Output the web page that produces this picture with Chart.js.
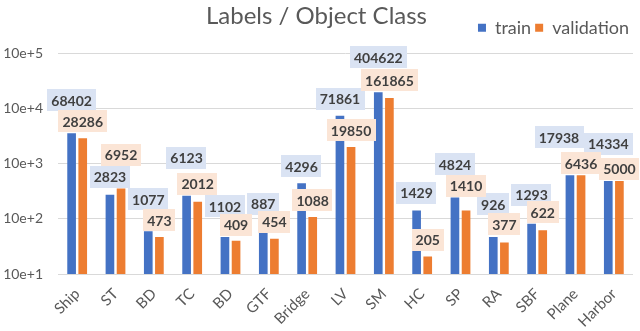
<!DOCTYPE html>
<html>
<head>
<meta charset="utf-8">
<script src="https://cdn.jsdelivr.net/npm/chart.js@4"></script>
<style>
  html, body { margin: 0; padding: 0; background: #fff; }
  #wrap { width: 640px; height: 331px; }
</style>
</head>
<body>
<div id="wrap"><canvas id="myChart"></canvas></div>
<script>
// categories
const classes = ['Ship', 'ST', 'BD', 'TC', 'BD', 'GTF', 'Bridge', 'LV', 'SM', 'HC', 'SP', 'RA', 'SBF', 'Plane', 'Harbor'];

// bar heights
const trainBars = [36000, 2750, 600, 2640, 470, 560, 4450, 74600, 201000, 1420, 2460, 470, 820, 6200, 4900];
const valBars = [29200, 3560, 470, 2060, 400, 435, 1080, 20200, 157000, 207, 1420, 374, 622, 6200, 4900];

// numbers printed in the label boxes
const trainLabels = [68402, 2823, 1077, 6123, 1102, 887, 4296, 71861, 404622, 1429, 4824, 926, 1293, 17938, 14334];
const valLabels = [28286, 6952, 473, 2012, 409, 454, 1088, 19850, 161865, 205, 1410, 377, 622, 6436, 5000];

// y axis ticks (10e+1 .. 10e+5)
const yTicks = [100, 1000, 10000, 100000, 1000000];

// label placement (px above bar top, px sideways), labels were moved by hand in the original
const trainLift = [33, 18, 32, 38, 31, 29, 17, 17, 35, 18, 33, 33, 29, 38, 37];
const valLift = [17, 34, 17, 18, 16, 17, 17, 17, 18, 17, 25, 18, 18, 12, 12];
const trainShift = [0, 0, 0, 0, 0, 0, 0, 0, 0, 0, 0, 0, 0, -11, 0];
const valShift = [0, 0, 0, 0, 0, 0, 0, 0, 0, 0, 0, 0, 0, 0, 0];

const FONT = 'Lato, "Liberation Sans", sans-serif';

const boxLabels = {
    id: 'boxLabels',
    afterDatasetsDraw(chart) {
        const ctx = chart.ctx;
        const sets = [
            { idx: 0, labels: trainLabels, lift: trainLift, shift: trainShift, fill: '#dae3f3' },
            { idx: 1, labels: valLabels, lift: valLift, shift: valShift, fill: '#fbe5d6' }
        ];
        ctx.save();
        ctx.font = 'bold 14px ' + FONT;
        ctx.textAlign = 'center';
        ctx.textBaseline = 'middle';
        sets.forEach(s => {
            const meta = chart.getDatasetMeta(s.idx);
            meta.data.forEach((bar, i) => {
                const text = String(s.labels[i]);
                const x = bar.x + s.shift[i];
                const y = bar.y - s.lift[i];
                const w = ctx.measureText(text).width + 8;
                const h = 22;
                ctx.fillStyle = s.fill;
                ctx.fillRect(Math.round(x - w / 2), Math.round(y - h / 2), Math.round(w), h);
                ctx.fillStyle = '#404040';
                ctx.fillText(text, x, y + 1);
            });
        });
        ctx.restore();
    }
};

const ctx = document.getElementById('myChart').getContext('2d');
const myChart = new Chart(ctx, {
    type: 'bar',
    data: {
        labels: classes,
        datasets: [{
            label: 'train',
            data: trainBars,
            backgroundColor: '#4472c4',
            categoryPercentage: 0.58,
            barPercentage: 0.78
        },
        {
            label: 'validation',
            data: valBars,
            backgroundColor: '#ed7d31',
            categoryPercentage: 0.58,
            barPercentage: 0.78
        }]
    },
    options: {
        responsive: true,
        maintainAspectRatio: false,
        animation: false,
        layout: { padding: { left: 0, right: 7, top: 0, bottom: 0 } },
        plugins: {
            title: {
                display: true,
                text: 'Labels / Object Class',
                color: '#595959',
                font: { family: FONT, size: 24, weight: 'normal', lineHeight: 1.2 },
                padding: { top: 2, bottom: -16 }
            },
            legend: {
                position: 'top',
                align: 'end',
                labels: {
                    color: '#595959',
                    font: { family: FONT, size: 18 },
                    boxWidth: 8,
                    boxHeight: 8,
                    padding: 4
                }
            },
            tooltip: { enabled: false }
        },
        scales: {
            x: {
                grid: { display: false },
                border: { display: false },
                ticks: {
                    color: '#595959',
                    font: { family: FONT, size: 15 },
                    minRotation: 45,
                    maxRotation: 45,
                    autoSkip: false
                },
                afterFit: axis => {
                    axis.height = 57;
                    axis.paddingLeft = 0;
                    axis.paddingRight = 0;
                }
            },
            gap: {
                type: 'category',
                position: 'top',
                grid: { display: false },
                border: { display: false },
                ticks: { display: false },
                afterFit: axis => { axis.height = 7; }
            },
            y: {
                type: 'logarithmic',
                min: 100,
                max: 1000000,
                afterBuildTicks: axis => {
                    axis.ticks = yTicks.map(v => ({ value: v }));
                },
                afterFit: axis => { axis.width = 58; },
                grid: { color: '#d9d9d9', drawTicks: false },
                border: { display: false },
                ticks: {
                    color: '#595959',
                    font: { family: FONT, size: 14 },
                    padding: 15,
                    callback: v => '10e+' + (Math.round(Math.log10(v)) - 1)
                }
            }
        }
    },
    plugins: [boxLabels]
});
</script>
</body>
</html>
